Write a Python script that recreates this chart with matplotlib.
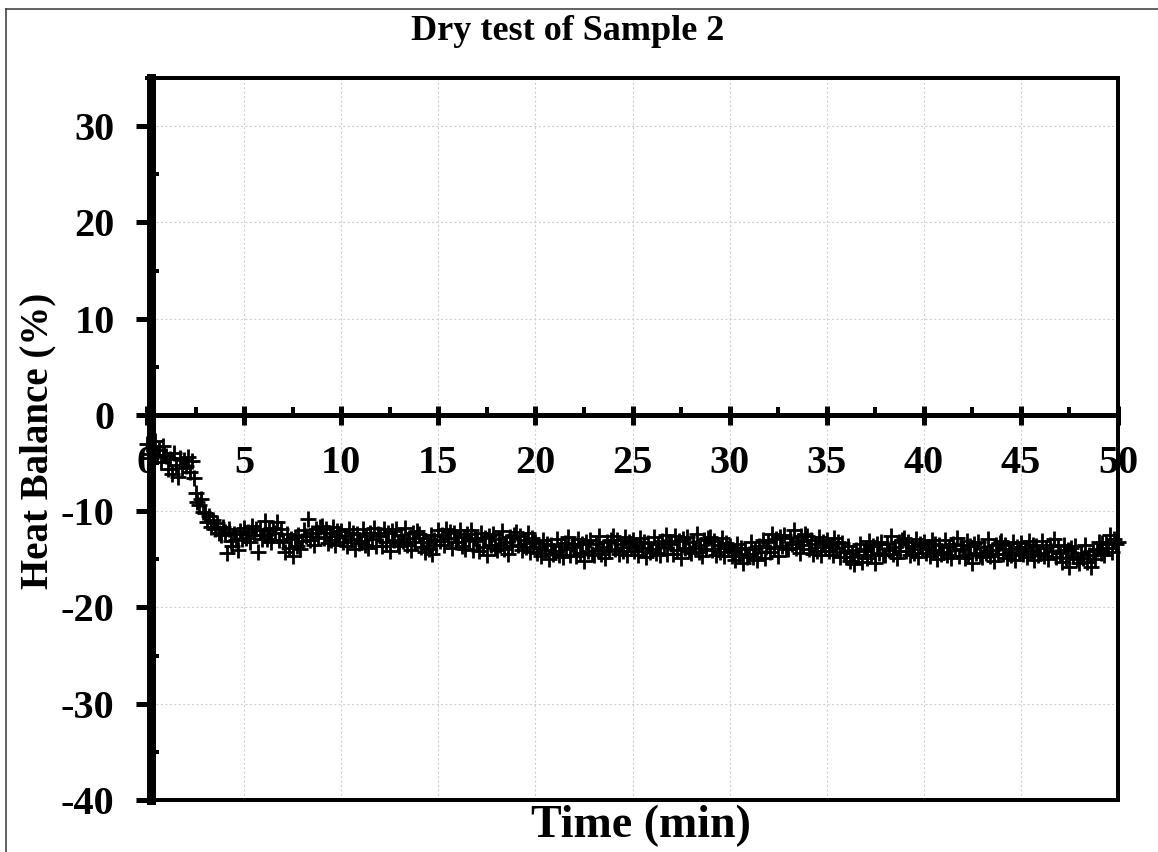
import numpy as np
import matplotlib
matplotlib.use("Agg")
import matplotlib.pyplot as plt
from matplotlib.lines import Line2D
from matplotlib.ticker import MultipleLocator

# ---- data ----
# one reading every 0.1 min (6 s); each row below is one minute
heat_balance = [
    -3.0, -4.1, -4.5, -3.3, -2.7, -4.3, -3.6, -4.9, -3.2, -4.2,
    -4.3, -5.6, -4.6, -6.1, -4.0, -5.2, -6.4, -4.5, -5.5, -4.7,
    -5.3, -4.4, -5.9, -4.8, -6.5, -8.1, -9.0, -9.4, -8.7, -10.1,
    -10.2, -11.1, -10.5, -11.6, -10.9, -11.8, -11.2, -12.3, -12.5, -11.6,
    -12.2, -14.3, -11.8, -13.1, -13.6, -12.4, -13.0, -14.0, -12.1, -12.9,
    -11.7, -12.8, -12.2, -13.2, -11.5, -12.5, -11.9, -14.2, -12.0, -12.9,
    -12.5, -11.0, -12.9, -12.0, -13.2, -11.7, -12.3, -11.1, -13.0, -11.8,
    -13.2, -14.2, -12.4, -13.8, -12.9, -14.7, -12.7, -13.6, -12.5, -13.9,
    -13.1, -12.0, -12.6, -10.8, -13.0, -12.3, -13.5, -11.8, -12.7, -11.6,
    -11.5, -12.8, -11.9, -13.3, -12.3, -13.0, -11.6, -13.5, -12.1, -12.6,
    -12.1, -13.2, -12.6, -13.6, -11.9, -12.9, -12.3, -13.9, -12.4, -13.3,
    -13.1, -11.9, -13.5, -12.6, -13.8, -12.3, -12.9, -11.7, -13.6, -12.4,
    -12.6, -13.6, -11.8, -13.2, -12.3, -14.1, -12.1, -13.0, -11.9, -13.3,
    -13.6, -12.5, -13.1, -11.7, -13.5, -12.8, -14.0, -12.3, -13.2, -12.1,
    -12.4, -13.7, -12.8, -14.2, -13.2, -13.9, -12.5, -14.4, -13.0, -13.5,
    -12.0, -13.1, -12.5, -13.5, -11.8, -12.8, -12.2, -13.8, -12.3, -13.2,
    -13.2, -12.0, -13.6, -12.7, -13.9, -12.4, -13.0, -12.0, -14.0, -12.8,
    -13.1, -14.1, -12.3, -13.7, -12.8, -14.6, -12.6, -13.5, -12.4, -13.8,
    -14.0, -12.9, -13.5, -12.1, -13.9, -13.2, -14.4, -12.7, -13.6, -12.5,
    -12.2, -13.5, -12.6, -14.0, -13.0, -13.7, -12.3, -14.2, -12.8, -13.3,
    -13.2, -14.3, -13.7, -14.7, -13.0, -14.0, -13.4, -15.0, -13.5, -14.4,
    -14.1, -12.9, -14.5, -13.6, -14.8, -13.3, -13.9, -12.7, -14.6, -13.4,
    -13.7, -14.7, -12.9, -14.3, -13.4, -15.2, -13.2, -14.1, -13.0, -14.4,
    -14.5, -13.4, -14.0, -12.6, -14.4, -13.7, -14.9, -13.2, -14.1, -13.0,
    -12.6, -13.9, -13.0, -14.4, -13.4, -14.1, -12.7, -14.6, -13.2, -13.7,
    -13.0, -14.1, -13.5, -14.5, -12.8, -13.8, -13.2, -14.8, -13.3, -14.2,
    -13.9, -12.7, -14.3, -13.4, -14.6, -13.1, -13.7, -12.5, -14.4, -13.2,
    -13.4, -14.4, -12.6, -14.0, -13.1, -14.9, -12.9, -13.8, -12.7, -14.1,
    -14.3, -13.2, -13.8, -12.4, -14.2, -13.5, -14.7, -13.0, -13.9, -12.8,
    -12.7, -14.0, -13.1, -14.5, -13.5, -14.2, -12.8, -14.7, -13.3, -13.8,
    -13.6, -14.7, -14.1, -15.1, -13.4, -14.4, -13.8, -15.4, -13.9, -14.8,
    -14.4, -13.2, -14.8, -13.9, -15.1, -13.6, -14.2, -13.0, -14.9, -13.7,
    -13.2, -14.2, -12.4, -13.8, -12.9, -14.7, -12.7, -13.6, -12.5, -13.9,
    -13.9, -12.8, -13.4, -12.0, -13.8, -13.1, -14.3, -12.6, -13.5, -12.4,
    -12.6, -13.9, -13.0, -14.4, -13.4, -14.1, -12.7, -14.6, -13.2, -13.7,
    -13.0, -14.1, -13.5, -14.5, -12.8, -13.8, -13.2, -14.8, -13.3, -14.2,
    -14.8, -13.6, -15.2, -14.3, -15.5, -14.0, -14.6, -13.4, -15.3, -14.1,
    -13.9, -14.9, -13.1, -14.5, -13.6, -15.4, -13.4, -14.3, -13.2, -14.6,
    -14.5, -13.4, -14.0, -12.6, -14.4, -13.7, -14.9, -13.2, -14.1, -13.0,
    -12.8, -14.1, -13.2, -14.6, -13.6, -14.3, -12.9, -14.8, -13.4, -13.9,
    -13.2, -14.3, -13.7, -14.7, -13.0, -14.0, -13.4, -15.0, -13.5, -14.4,
    -14.2, -13.0, -14.6, -13.7, -14.9, -13.4, -14.0, -12.8, -14.7, -13.5,
    -13.9, -14.9, -13.1, -14.5, -13.6, -15.4, -13.4, -14.3, -13.2, -14.6,
    -14.8, -13.7, -14.3, -12.9, -14.7, -14.0, -15.2, -13.5, -14.4, -13.3,
    -13.1, -14.4, -13.5, -14.9, -13.9, -14.6, -13.2, -15.1, -13.7, -14.2,
    -13.3, -14.4, -13.8, -14.8, -13.1, -14.1, -13.5, -15.1, -13.6, -14.5,
    -14.3, -13.1, -14.7, -13.8, -15.0, -13.5, -14.1, -12.9, -14.8, -13.6,
    -14.3, -15.3, -13.5, -14.9, -14.0, -15.8, -13.8, -14.7, -13.6, -15.0,
    -15.4, -14.3, -14.9, -13.5, -15.3, -14.6, -15.8, -14.1, -15.0, -13.9,
    -13.2, -14.3, -13.3, -14.6, -13.4, -13.8, -12.5, -14.2, -12.9, -13.4,
    -13.2,
]
sample_step_min = 0.1
time_min = np.arange(len(heat_balance)) * sample_step_min

x_ticks = [0, 5, 10, 15, 20, 25, 30, 35, 40, 45, 50]
y_ticks = [-40, -30, -20, -10, 0, 10, 20, 30]
title = "Dry test of Sample 2"
x_label = "Time (min)"
y_label = "Heat Balance (%)"

# ---- figure ----
W, H = 1158, 852
DPI = 100
PX = 72.0 / DPI  # points per pixel
plt.rcParams["font.family"] = ["Liberation Serif", "DejaVu Serif"]
plt.rcParams["font.weight"] = "bold"

fig = plt.figure(figsize=(W / DPI, H / DPI), dpi=DPI)
L, R, T, B = 147, 1118, 78, 800
ax = fig.add_axes([L / W, 1 - B / H, (R - L) / W, (B - T) / H])

ax.set_xlim(0, 50)
ax.set_ylim(-40, 35)

# grid
ax.set_axisbelow(True)
ax.grid(True, which="major", color="#d0d0d0", linestyle=(0, (2, 2)), linewidth=0.8)

# data
ax.plot(time_min, heat_balance, linestyle="none", marker="+", color="black",
        markersize=16 * PX, markeredgewidth=2.8 * PX, clip_on=False, zorder=4)

# spines
ax.spines["bottom"].set_position(("data", 0))
ax.spines["bottom"].set_linewidth(5 * PX)
ax.spines["top"].set_linewidth(4 * PX)
ax.spines["right"].set_linewidth(4 * PX)
ax.spines["right"].set_zorder(3)
ax.spines["left"].set_linewidth(9 * PX)
ax.spines["left"].set_position(("outward", -3.5 * PX))
ax.axhline(-40, color="black", linewidth=4 * PX, clip_on=False, zorder=3)

# ticks
ax.set_xticks(x_ticks)
ax.set_xticklabels([str(v) for v in x_ticks])
ax.xaxis.set_minor_locator(MultipleLocator(2.5))
ax.set_yticks(y_ticks)
ax.set_yticklabels([str(v) for v in y_ticks])
ax.yaxis.set_minor_locator(MultipleLocator(5))

ax.tick_params(axis="x", which="major", direction="inout", length=19 * PX,
               width=5 * PX, pad=21 * PX, labelsize=29, top=False)
ax.tick_params(axis="x", which="minor", direction="in", length=8 * PX,
               width=4 * PX, top=False)
ax.tick_params(axis="y", which="major", direction="out", length=15 * PX,
               width=5 * PX, pad=21 * PX, labelsize=29, right=False)
ax.tick_params(axis="y", which="minor", direction="in", length=8 * PX,
               width=4 * PX, right=False)
for lab in ax.get_xticklabels() + ax.get_yticklabels():
    lab.set_fontweight("bold")

# labels
fig.text(641 / W, 1 - 826 / H, x_label, ha="center", va="center",
         fontsize=33, fontweight="bold")
fig.text(38 / W, 1 - 441 / H, y_label, ha="center", va="center",
         rotation=90, fontsize=28, fontweight="bold")
fig.text(568 / W, 1 - 31 / H, title, ha="center", va="center",
         fontsize=26, fontweight="bold")

# outer frame (left and top edges visible in the reference)
fig.add_artist(Line2D([6 / W, 6 / W], [0, 1 - 9 / H], transform=fig.transFigure,
                      color="#333333", linewidth=1.5 * PX))
fig.add_artist(Line2D([6 / W, 1], [1 - 9 / H, 1 - 9 / H], transform=fig.transFigure,
                      color="#333333", linewidth=1.5 * PX))

fig.savefig("out.png", dpi=DPI)
